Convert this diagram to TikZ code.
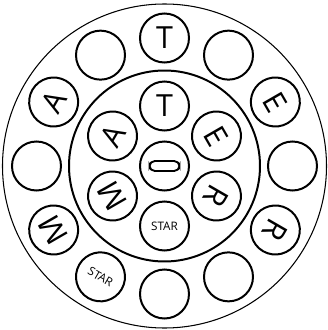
\documentclass[tikz,border=0pt]{standalone}
\usepackage{fontspec}
\setmainfont{Open Sans}
\begin{document}
\begin{tikzpicture}[x=0.03cm, y=0.03cm]
  \tikzset{
    rim/.style={draw=black, line width=0.9pt},
    ring/.style={draw=black, line width=1.7pt},
    dial/.style={circle, draw=black, line width=1.7pt, inner sep=0pt, minimum size=1.47cm, font=\fontsize{26}{26}\selectfont},
    star/.style={dial, font=\fontsize{10}{10}\selectfont},
    slot/.style={draw=black, line width=1.6pt, rounded corners=4.5pt}
  }
  \useasboundingbox (-164.5, -164) rectangle (162.5, 166);

  % Outer rim and inner ring
  \draw[rim] (0, 0) circle (162);
  \draw[ring] (0, 0) circle (95.5);

  % Outer dials
  \def\R{128}
  \node[dial] (oT) at (90:\R) {T};
  \node[dial] (oNE) at (60:\R) {};
  \node[dial, rotate=-60] (oE) at (30:\R) {E};
  \node[dial] (oRt) at (0:\R) {};
  \node[dial, rotate=-120] (oR) at (-30:\R) {R};
  \node[dial] (oSE) at (-60:\R) {};
  \node[dial] (oS) at (-90:\R) {};
  \node[star, rotate=-30] (oStar) at (-120:\R) {STAR};
  \node[dial, rotate=120] (oM) at (-150:\R) {M};
  \node[dial] (oLt) at (180:\R) {};
  \node[dial, rotate=60] (oA) at (150:\R) {A};
  \node[dial] (oNW) at (120:\R) {};

  % Inner dials
  \def\r{60}
  \node[dial] (iT) at (90:\r) {T};
  \node[dial, rotate=-60] (iE) at (30:\r) {E};
  \node[dial, rotate=-120] (iR) at (-30:\r) {R};
  \node[star] (iStar) at (-90:\r) {STAR};
  \node[dial, rotate=120] (iM) at (-150:\r) {M};
  \node[dial, rotate=60] (iA) at (150:\r) {A};

  % Centre dial with slot
  \node[dial] (hub) at (0, 0) {};
  \draw[slot] (-15, -5) rectangle (15, 5);

\end{tikzpicture}
\end{document}
